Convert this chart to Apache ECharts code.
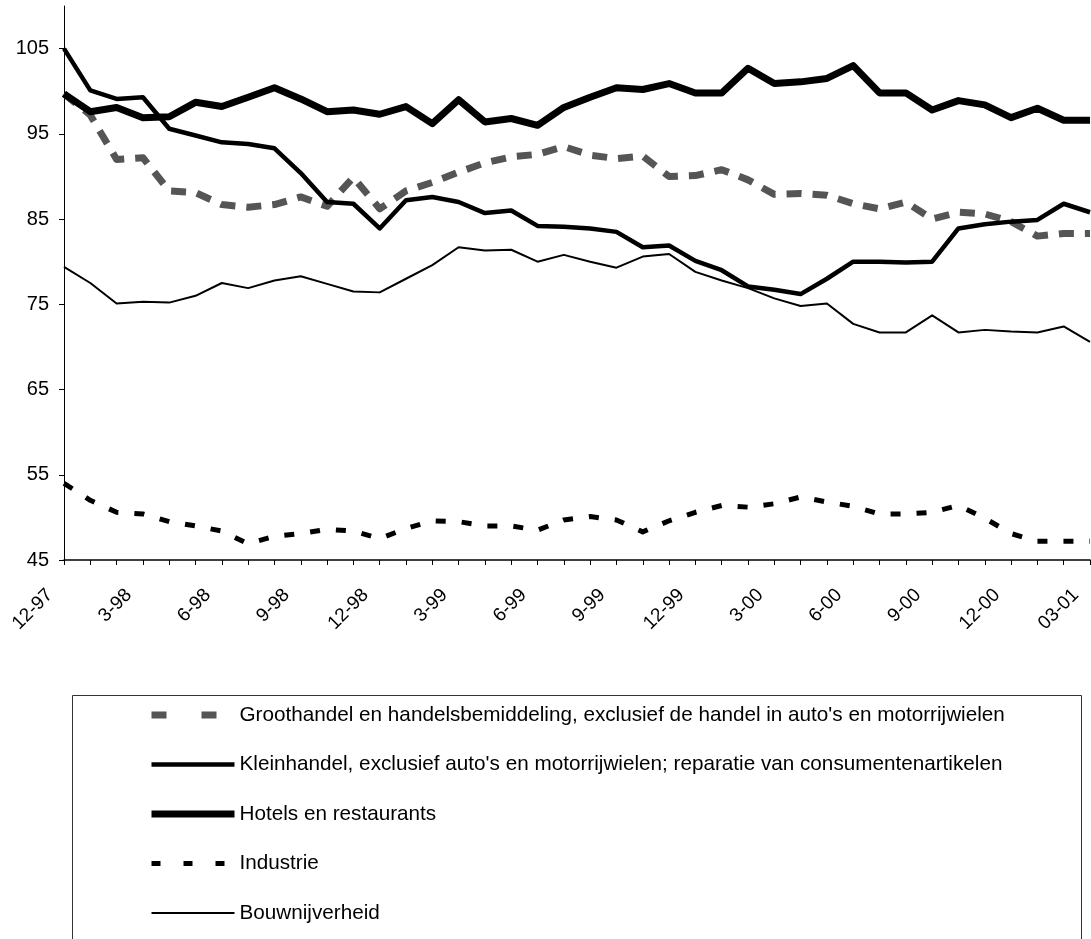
<!DOCTYPE html>
<html>
<head>
<meta charset="utf-8">
<script src="https://cdn.jsdelivr.net/npm/echarts@6/dist/echarts.min.js"></script>
<style>
html,body{margin:0;padding:0;background:#fff;}
#chart{width:1091px;height:939px;}
</style>
</head>
<body>
<div id="chart"></div>
<script>
var categories = ["12-97","1-98","2-98","3-98","4-98","5-98","6-98","7-98","8-98","9-98","10-98","11-98",
  "12-98","1-99","2-99","3-99","4-99","5-99","6-99","7-99","8-99","9-99","10-99","11-99",
  "12-99","1-00","2-00","3-00","4-00","5-00","6-00","7-00","8-00","9-00","10-00","11-00",
  "12-00","1-01","2-01","03-01"];

var yTicks = [45, 55, 65, 75, 85, 95, 105];

var groothandel = [99.7,97.2,92.0,92.2,88.3,88.1,86.7,86.4,86.7,87.6,86.5,89.9,
  86.2,88.3,89.3,90.5,91.6,92.3,92.6,93.5,92.5,92.1,92.4,90.0,
  90.1,90.8,89.6,87.9,88.0,87.8,86.8,86.2,87.0,85.0,85.8,85.6,
  84.7,83.0,83.3,83.3];

var kleinhandel = [105.0,100.1,99.1,99.3,95.6,94.8,94.0,93.8,93.3,90.4,87.0,86.8,
  83.9,87.2,87.6,87.0,85.7,86.0,84.2,84.1,83.9,83.5,81.7,81.9,
  80.1,79.0,77.1,76.7,76.2,78.0,80.0,80.0,79.9,80.0,83.9,84.4,
  84.7,84.9,86.8,85.8];

var hotels = [99.7,97.6,98.1,96.9,97.0,98.7,98.2,99.3,100.4,99.1,97.6,97.8,
  97.3,98.2,96.2,99.0,96.4,96.8,96.0,98.1,99.3,100.4,100.2,100.9,
  99.8,99.8,102.7,100.9,101.1,101.5,103.0,99.8,99.8,97.8,98.9,98.4,
  96.9,98.0,96.6,96.6];

var industrie = [54.0,52.0,50.6,50.4,49.5,49.0,48.4,46.9,47.8,48.1,48.6,48.4,
  47.5,48.7,49.6,49.5,49.0,49.0,48.5,49.7,50.1,49.7,48.3,49.6,
  50.6,51.4,51.2,51.6,52.4,51.8,51.3,50.4,50.4,50.6,51.4,49.9,
  48.1,47.2,47.2,47.2];

var bouw = [79.4,77.5,75.1,75.3,75.2,76.0,77.5,76.9,77.8,78.3,77.4,76.5,
  76.4,78.0,79.6,81.7,81.3,81.4,80.0,80.8,80.0,79.3,80.6,80.9,
  78.8,77.8,76.9,75.7,74.8,75.1,72.7,71.7,71.7,73.7,71.7,72.0,
  71.8,71.7,72.4,70.6];

var names = [
  "Groothandel en handelsbemiddeling, exclusief de handel in auto's en motorrijwielen",
  "Kleinhandel, exclusief auto's en motorrijwielen; reparatie van consumentenartikelen",
  "Hotels en restaurants",
  "Industrie",
  "Bouwnijverheid"
];

var FONT = '"Liberation Sans", Arial, Helvetica, sans-serif';
var chart = echarts.init(document.getElementById('chart'), null, {renderer: 'canvas'});

function line(name, data, color, width, type, z) {
  return {
    name: name, type: 'line', data: data, symbol: 'none', z: z,
    lineStyle: {color: color, width: width, type: type, cap: 'butt', join: 'round'},
    itemStyle: {color: color},
    emphasis: {disabled: true}
  };
}

chart.setOption({
  animation: false,
  backgroundColor: '#ffffff',
  grid: {left: 64, right: 1, top: 6, bottom: 379, containLabel: false},
  xAxis: {
    type: 'category', data: categories, boundaryGap: false,
    axisLine: {lineStyle: {color: '#000', width: 1.5}},
    axisTick: {show: true, interval: 0, length: 5, lineStyle: {color: '#000'}},
    axisLabel: {interval: 2, rotate: 45, margin: 18, padding: [0, 20, 0, 0],
      color: '#000', fontSize: 19, fontFamily: FONT},
    splitLine: {show: false}
  },
  yAxis: {
    type: 'value', min: 45, max: 110, interval: 10,
    axisLine: {show: true, lineStyle: {color: '#000', width: 1}},
    axisTick: {show: true, length: 5, customValues: yTicks, lineStyle: {color: '#000'}},
    axisLabel: {customValues: yTicks, margin: 15, color: '#000', fontSize: 20, fontFamily: FONT},
    splitLine: {show: false}
  },
  legend: {
    orient: 'vertical', left: 148, top: 703, padding: 0,
    itemWidth: 83, itemHeight: 20, itemGap: 25.5,
    textStyle: {fontSize: 20.7, lineHeight: 24, color: '#000', fontFamily: FONT},
    itemStyle: {opacity: 0},
    lineStyle: {width: 'inherit'},
    selectedMode: false,
    data: [
      {name: names[0], lineStyle: {type: [15, 35], width: 7}},
      {name: names[1]},
      {name: names[2]},
      {name: names[3], lineStyle: {type: [9, 23], width: 5}},
      {name: names[4]}
    ]
  },
  graphic: [{
    type: 'rect', silent: true,
    shape: {x: 72.5, y: 695.5, width: 1009, height: 260},
    style: {fill: 'none', stroke: '#333', lineWidth: 1}
  }],
  series: [
    line(names[0], groothandel, '#555555', 7, [15, 11], 2),
    line(names[3], industrie, '#000000', 5, [10, 16], 3),
    line(names[4], bouw, '#000000', 2, 'solid', 3),
    line(names[1], kleinhandel, '#000000', 4.5, 'solid', 4),
    line(names[2], hotels, '#000000', 7, 'solid', 5)
  ]
});
</script>
</body>
</html>
